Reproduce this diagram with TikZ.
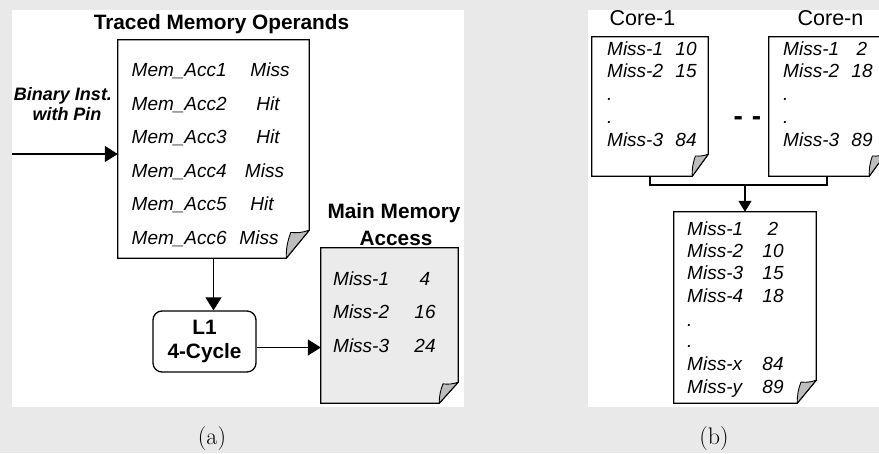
\documentclass[tikz,border=0pt]{standalone}
\usepackage{fontspec}
\newfontfamily\arial{Liberation Sans}
\usetikzlibrary{arrows.meta,calc}

\definecolor{flapgray}{HTML}{BDBDBD}
\definecolor{memfill}{HTML}{EBEBEB}
\definecolor{wmgray}{HTML}{E9E9E9}

\tikzset{
  pageline/.style={draw=black, line width=1.3pt, line join=miter},
  flap/.style={fill=flapgray, draw=black, line width=0.9pt, line join=round},
  pagebox/.style={rectangle, draw=none, inner sep=0pt},
  cachebox/.style={rectangle, draw=black, line width=1.3pt, rounded corners=9pt,
    inner sep=0pt, align=center, font=\arial\bfseries\fontsize{20.8}{24}\selectfont},
  arr/.style={line width=1.3pt, -{Triangle[length=13pt,width=16pt]}},
  arrsmall/.style={line width=1.3pt, -{Triangle[length=11pt,width=13pt]}},
  wire/.style={line width=1.3pt},
  itxt/.style={font=\arial\itshape\fontsize{19}{22}\selectfont, inner sep=0pt, anchor=base west},
  ctr/.style={anchor=base},
  ttl/.style={font=\arial\bfseries\fontsize{20.8}{24}\selectfont, inner sep=0pt, anchor=base},
  lbl/.style={font=\arial\bfseries\itshape\fontsize{18}{20}\selectfont, inner sep=0pt, anchor=base},
  core/.style={font=\arial\fontsize{21.5}{24}\selectfont, inner sep=0pt, anchor=base},
  subcap/.style={font=\fontsize{24}{28}\selectfont, inner sep=0pt, anchor=base},
}

% page outline with a dog-eared bottom right corner:
% #1 node, #2 fill colour, #3 fold width, #4 fold height
\newcommand\dogearpage[4]{%
  \path[pageline, fill=#2] (#1.north west) -- (#1.north east)
    -- ([yshift=#4]#1.south east) -- ([xshift=-#3]#1.south east)
    -- (#1.south west) -- cycle;
  \path[flap] ([yshift=#4]#1.south east)
    to[bend left=12] ($(#1.south east)+(-0.8*#3,0.92*#4)$)
    to[bend right=10] ([xshift=-#3]#1.south east) -- cycle;
}

\begin{document}
\begin{tikzpicture}[x=1pt,y=-1pt]
\useasboundingbox (0,0) rectangle (879,453);
\clip (0,0) rectangle (879,453);

% backdrop and the two panels
\fill[wmgray] (0,0) rectangle (879,453);
\fill[white] (12,10) rectangle (464,407);
\fill[white] (588,10) rectangle (879,407);

% ---------------- panel (a) ----------------
\node[pagebox, minimum width=191pt, minimum height=218pt] (tr) at (213.5,149) {};
\dogearpage{tr}{white}{23pt}{28pt}
\node[ttl] (trtitle) at (221.5,29.5) {Traced Memory Operands};

\foreach \i/\st/\cx in {1/Miss/270,2/Hit/268,3/Hit/268,4/Miss/264.5,5/Hit/262,6/Miss/259} {
  \node[itxt] (acc\i) at (131.5,{76.5+33.6*(\i-1)}) {Mem\_Acc\i};
  \node[itxt, ctr] (st\i) at (\cx,{76.5+33.6*(\i-1)}) {\st};
}

\node[lbl] (bin1) at (63,100) {Binary Inst.};
\node[lbl] (bin2) at (67,120) {with Pin};
\coordinate (src) at (12,154);
\draw[arr] (src) -- (src -| tr.west);

\node[cachebox, minimum width=103pt, minimum height=61pt] (l1) at (204.5,341.5) {L1\\4-Cycle};
\draw[arr] (tr.south) -- (tr.south |- l1.north);

\node[pagebox, minimum width=137pt, minimum height=155pt] (mm) at (389.5,325.5) {};
\dogearpage{mm}{memfill}{19pt}{21pt}
\node[ttl] (mmt1) at (394,218) {Main Memory};
\node[ttl] (mmt2) at (396,245) {Access};
\foreach \i/\n/\yy in {1/4/285,2/16/318,3/24/352} {
  \node[itxt] (mmiss\i) at (333,\yy) {Miss-\i};
  \node[itxt, ctr] (mcyc\i) at (425,\yy) {\n};
}
\draw[arr] ([yshift=-6pt]l1.east) -- ([yshift=-6pt]l1.east -| mm.west);

\node[subcap] (capa) at (212,444) {(a)};

% ---------------- panel (b) ----------------
\node[pagebox, minimum width=116pt, minimum height=139pt] (c1) at (650,106.5) {};
\dogearpage{c1}{white}{16pt}{22pt}
\node[pagebox, minimum width=116pt, minimum height=139pt] (cn) at (827,106.5) {};
\dogearpage{cn}{white}{16pt}{22pt}
\node[core] (c1t) at (642.5,25) {Core-1};
\node[core] (cnt) at (830.5,25) {Core-n};

\node[itxt] (a1) at (607,55) {Miss-1};  \node[itxt, ctr] (a1n) at (686,55) {10};
\node[itxt] (a2) at (607,77) {Miss-2};  \node[itxt, ctr] (a2n) at (686,77) {15};
\node[itxt] (a3) at (607,100) {.};
\node[itxt] (a4) at (607,123) {.};
\node[itxt] (a5) at (607,146) {Miss-3};  \node[itxt, ctr] (a5n) at (686,146) {84};

\node[itxt] (b1) at (783,55) {Miss-1};  \node[itxt, ctr] (b1n) at (862,55) {2};
\node[itxt] (b2) at (783,77) {Miss-2};  \node[itxt, ctr] (b2n) at (862,77) {18};
\node[itxt] (b3) at (783,100) {.};
\node[itxt] (b4) at (783,123) {.};
\node[itxt] (b5) at (783,146) {Miss-3};  \node[itxt, ctr] (b5n) at (862,146) {89};

\node[font=\arial\bfseries\fontsize{28}{30}\selectfont, inner sep=0pt, anchor=base]
  (dots) at (747.5,125) {-\hspace{9pt}-};

\node[pagebox, minimum width=142pt, minimum height=191pt] (mg) at (745,307.5) {};
\dogearpage{mg}{white}{19pt}{23pt}
\foreach \nm/\n/\yy/\k in {Miss-1/2/235/1, Miss-2/10/257/2, Miss-3/15/279/3, Miss-4/18/302/4,
                        Miss-x/84/370/5, Miss-y/89/393/6} {
  \node[itxt] (m\k) at (687,\yy) {\nm};
  \node[itxt, ctr] (mn\k) at (773,\yy) {\n};
}
\node[itxt] (md1) at (687,326) {.};
\node[itxt] (md2) at (687,347) {.};

\coordinate (bus) at (745,185);
\draw[wire] (c1.south) -- (c1.south |- bus) -- (cn.south |- bus) -- (cn.south);
\draw[arrsmall] (mg.north |- bus) -- (mg.north);

\node[subcap] (capb) at (714,444) {(b)};
\end{tikzpicture}
\end{document}
